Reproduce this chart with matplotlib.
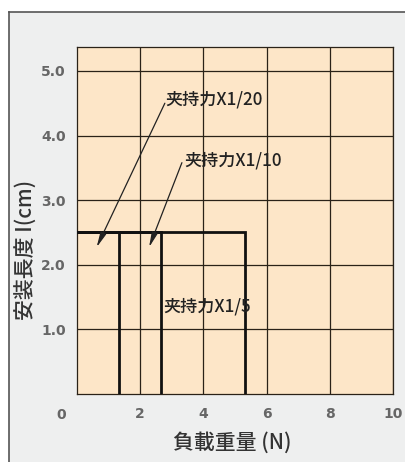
import matplotlib.pyplot as plt
from matplotlib.lines import Line2D

plt.rcParams['font.family'] = ['Noto Sans CJK JP', 'DejaVu Sans']

# data
loads = [1.33, 2.67, 5.33]          # N, max load for each clamping ratio
mount_length = 2.5                  # cm
labels = ['夹持力X1/20', '夹持力X1/10', '夹持力X1/5']
label_pos = [(2.8, 4.55), (3.4, 3.62), (2.72, 1.36)]
arrow_from = [(2.78, 4.50), (3.32, 3.58), None]
arrow_to = [(0.62, 2.27), (2.28, 2.27), None]
x_ticks = [2, 4, 6, 8, 10]
y_ticks = [1.0, 2.0, 3.0, 4.0, 5.0]

fig = plt.figure(figsize=(4.05, 4.62), dpi=100)
fig.patch.set_facecolor('white')

# outer gray panel with frame
panel = plt.Rectangle((9 / 405, 0), 1, 1 - 12 / 462, transform=fig.transFigure,
                      facecolor='#eeefef', edgecolor='none', zorder=-10)
fig.add_artist(panel)
fig.add_artist(Line2D([9 / 405, 9 / 405], [0, 1 - 12 / 462], transform=fig.transFigure,
                      color='#555555', lw=1.2, zorder=-5))
fig.add_artist(Line2D([9 / 405, 1], [1 - 12 / 462, 1 - 12 / 462], transform=fig.transFigure,
                      color='#555555', lw=1.2, zorder=-5))

ax = fig.add_axes([77 / 405, 68 / 462, 316 / 405, 347 / 462])
ax.set_facecolor('#fde6c8')
ax.set_xlim(0, 10)
ax.set_ylim(0, 5.37)

tick_font = dict(family='DejaVu Sans', weight='semibold', size=10)
ax.set_xticks(x_ticks)
ax.set_xticklabels([str(v) for v in x_ticks], fontdict=tick_font)
ax.set_yticks(y_ticks)
ax.set_yticklabels([f'{v:.1f}' for v in y_ticks], fontdict=tick_font)
ax.tick_params(length=0, colors='#666666', pad=8)
ax.tick_params(axis='x', pad=9)
ax.grid(True, color='#2a2218', lw=0.9)
for s in ax.spines.values():
    s.set_color('#2a2218')
    s.set_linewidth(0.9)
ax.text(-0.5, -0.33, '0', ha='center', va='center', color='#666666',
        clip_on=False, **tick_font)

for load in loads:
    ax.plot([0, load, load], [mount_length, mount_length, 0], color='#111111',
            lw=2.0, solid_joinstyle='miter', zorder=3)

for text, pos, src, dst in zip(labels, label_pos, arrow_from, arrow_to):
    ax.text(pos[0], pos[1], text, ha='left', va='center', fontsize=12.3,
            weight='medium', color='#222222', zorder=4)
    if src is not None:
        ax.annotate('', xy=dst, xytext=src,
                    arrowprops=dict(arrowstyle='-|>,head_length=0.9,head_width=0.18',
                                    color='#222222', lw=0.9, shrinkA=0, shrinkB=0),
                    zorder=4)

ax.set_xlabel('負載重量 (N)', fontsize=15, weight='medium', color='#333333')
ax.set_ylabel('安装長度 I(cm)', fontsize=15, weight='medium', color='#333333')
ax.xaxis.set_label_coords(0.49, -0.11)
ax.yaxis.set_label_coords(-0.125, 0.415)

fig.savefig('out.png', dpi=100)
